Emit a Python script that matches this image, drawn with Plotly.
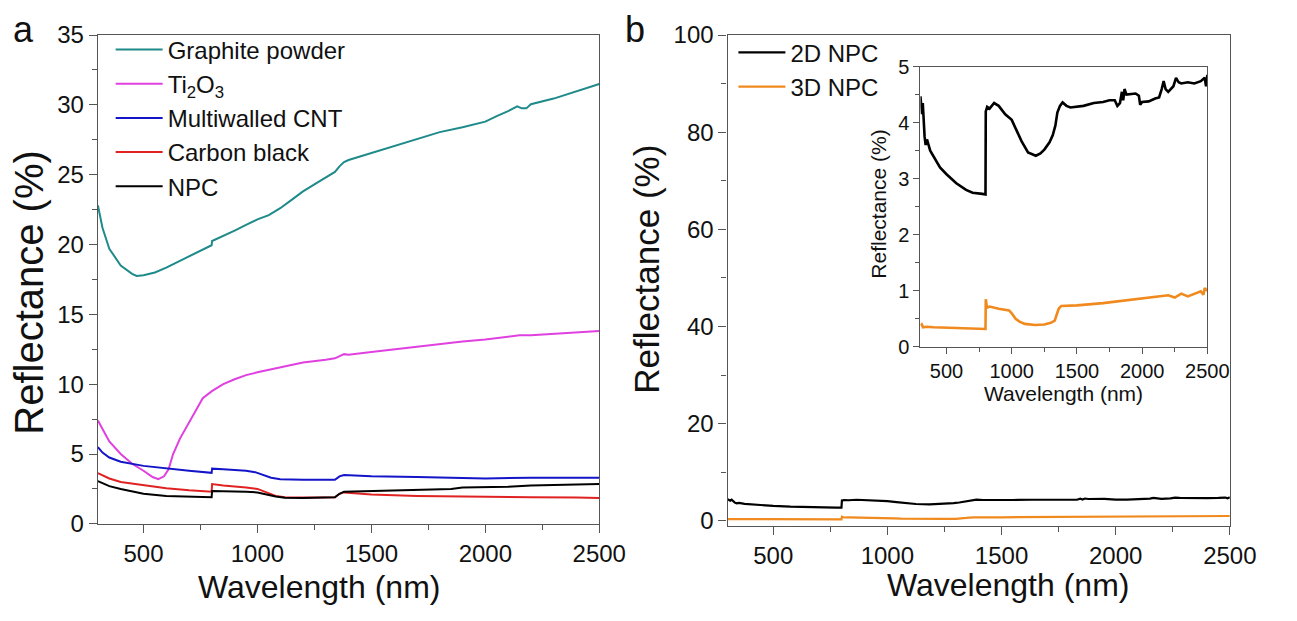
import plotly.graph_objects as go

W, H = 1297, 621

# ---------------- Panel a data ----------------
wl_graphite = [300, 320, 350, 400, 450, 470, 500, 550, 600, 650, 700, 750, 799, 801, 850, 900, 950, 1000, 1050, 1100,
               1150, 1200, 1250, 1300, 1340, 1360, 1380, 1400, 1450, 1500, 1600, 1700, 1800, 1900, 2000, 2050, 2100,
               2140, 2160, 2180, 2200, 2300, 2400, 2500]
r_graphite = [22.8, 21.2, 19.7, 18.5, 17.9, 17.75, 17.8, 18.0, 18.35, 18.75, 19.15, 19.55, 19.95, 20.25, 20.6, 21.0,
              21.4, 21.8, 22.1, 22.6, 23.2, 23.8, 24.3, 24.8, 25.2, 25.6, 25.9, 26.05, 26.3, 26.55, 27.1, 27.6, 28.05,
              28.4, 28.8, 29.2, 29.55, 29.9, 29.75, 29.75, 30.05, 30.45, 30.95, 31.5]

wl_ti2o3 = [300, 350, 400, 450, 500, 540, 565, 590, 610, 630, 660, 700, 730, 760, 800, 850, 900, 950, 1000, 1100,
            1200, 1300, 1340, 1380, 1400, 1500, 1600, 1700, 1800, 1900, 2000, 2100, 2150, 2200, 2300, 2400, 2500]
r_ti2o3 = [7.4, 5.9, 5.0, 4.3, 3.8, 3.35, 3.2, 3.4, 3.9, 5.0, 6.1, 7.3, 8.2, 9.0, 9.5, 10.0, 10.35, 10.65, 10.85, 11.2,
           11.55, 11.75, 11.85, 12.15, 12.1, 12.3, 12.5, 12.7, 12.9, 13.05, 13.2, 13.4, 13.5, 13.5, 13.6, 13.7, 13.8]

wl_cnt = [300, 320, 350, 400, 500, 600, 700, 799, 801, 850, 950, 990, 1030, 1060, 1100, 1200, 1340, 1360, 1380, 1450,
          1500, 1700, 1900, 2000, 2200, 2400, 2500]
r_cnt = [5.5, 5.1, 4.75, 4.45, 4.15, 3.95, 3.8, 3.65, 3.95, 3.9, 3.8, 3.7, 3.45, 3.3, 3.2, 3.15, 3.15, 3.4, 3.5, 3.45,
         3.4, 3.35, 3.3, 3.25, 3.3, 3.3, 3.3]

wl_cb = [300, 350, 400, 500, 600, 700, 799, 801, 850, 950, 1000, 1040, 1080, 1120, 1200, 1340, 1360, 1380, 1450, 1500,
         1700, 1900, 2000, 2200, 2400, 2500]
r_cb = [3.63, 3.25, 3.0, 2.75, 2.55, 2.4, 2.3, 2.85, 2.75, 2.6, 2.5, 2.25, 2.0, 1.9, 1.88, 1.9, 2.15, 2.25, 2.15, 2.1,
        2.0, 1.95, 1.9, 1.9, 1.88, 1.85]

wl_npc = [300, 350, 400, 500, 600, 700, 799, 801, 850, 950, 1000, 1040, 1080, 1120, 1200, 1340, 1360, 1380, 1500, 1700,
          1850, 1900, 2000, 2100, 2200, 2300, 2400, 2500]
r_npc = [3.06, 2.7, 2.5, 2.15, 2.0, 1.93, 1.9, 2.35, 2.35, 2.3, 2.25, 2.1, 1.95, 1.87, 1.85, 1.9, 2.15, 2.3, 2.35, 2.45,
         2.5, 2.6, 2.6, 2.65, 2.75, 2.8, 2.82, 2.85]

# ---------------- Panel b data ----------------
wl_2d = [300, 305, 312, 318, 325, 332, 340, 350, 375, 400, 450, 500, 575, 650, 700, 775, 799, 801, 812, 830,
         865, 900, 950, 1000, 1040, 1075, 1125, 1185, 1220, 1250, 1290, 1315, 1335, 1350, 1370, 1390, 1420, 1450,
         1550, 1630, 1700, 1750, 1790, 1810, 1830, 1845, 1855, 1865, 1880, 1950, 1975, 1985, 2000, 2050, 2100, 2130,
         2150, 2165, 2180, 2200, 2240, 2260, 2280, 2300, 2350, 2400, 2450, 2480, 2490, 2500]
r_2d = [4.47, 4.3, 4.15, 4.35, 4.0, 3.75, 3.6, 3.7, 3.5, 3.4, 3.2, 3.08, 2.92, 2.8, 2.75, 2.73, 2.72, 4.2, 4.28, 4.25,
        4.35, 4.3, 4.15, 4.05, 3.85, 3.67, 3.47, 3.41, 3.45, 3.52, 3.65, 3.78, 3.95, 4.18, 4.3, 4.36, 4.3, 4.27,
        4.3, 4.35, 4.37, 4.4, 4.4, 4.3, 4.35, 4.55, 4.4, 4.6, 4.5, 4.52, 4.48, 4.32, 4.37, 4.38, 4.43, 4.45,
        4.6, 4.74, 4.6, 4.55, 4.65, 4.8, 4.72, 4.7, 4.72, 4.7, 4.74, 4.8, 4.65, 4.85]

wl_3d = [300, 310, 320, 350, 400, 500, 600, 700, 799, 801, 810, 830, 900, 980, 1000, 1030, 1060, 1100, 1180, 1250,
         1300, 1330, 1345, 1360, 1380, 1500, 1700, 1850, 1950, 2100, 2200, 2250, 2300, 2350, 2400, 2450, 2470, 2480,
         2500]
r_3d = [0.38, 0.4, 0.35, 0.36, 0.35, 0.34, 0.33, 0.33, 0.32, 0.85, 0.7, 0.72, 0.68, 0.65, 0.6, 0.5, 0.45, 0.41, 0.39,
        0.4, 0.43, 0.47, 0.6, 0.68, 0.73, 0.74, 0.78, 0.82, 0.85, 0.88, 0.92, 0.88, 0.95, 0.9, 0.95, 0.99, 0.93, 1.05,
        1.0]

x_ticks = [500, 1000, 1500, 2000, 2500]

# ---------------- styles ----------------
FONT = "Liberation Sans, Arial, sans-serif"
AX = "#555555"
C_GRAPHITE = "#1F8A8A"
C_TI2O3 = "#E040E0"
C_CNT = "#1414C8"
C_CB = "#E02222"
C_NPC = "#000000"
C_3D = "#F08A1E"


def px_x(p):
    return p / W


def px_y(p):
    return 1 - p / H


def axis(domain, rng, dtick, minor_dtick, size, anchor, tickvals=None, tl=8, mtl=5):
    d = dict(domain=domain, range=rng, anchor=anchor, showline=True, linecolor=AX, linewidth=1.3, mirror=True,
             ticks="outside", ticklen=tl, tickwidth=1.3, tickcolor=AX, showgrid=False, zeroline=False,
             tickfont=dict(size=size, color="#111", family=FONT),
             minor=dict(ticks="outside", ticklen=mtl, tickwidth=1.2, tickcolor=AX, dtick=minor_dtick, showgrid=False))
    if tickvals is not None:
        d["tickmode"] = "array"
        d["tickvals"] = tickvals
    else:
        d["dtick"] = dtick
    return d


fig = go.Figure()

lw = 2.0
series_a = [
    ("Graphite powder", wl_graphite, r_graphite, C_GRAPHITE),
    ("Ti<sub>2</sub>O<sub>3</sub>", wl_ti2o3, r_ti2o3, C_TI2O3),
    ("Multiwalled CNT", wl_cnt, r_cnt, C_CNT),
    ("Carbon black", wl_cb, r_cb, C_CB),
    ("NPC", wl_npc, r_npc, C_NPC),
]
for name, xs, ys, c in series_a:
    fig.add_trace(go.Scatter(x=xs, y=ys, mode="lines", name=name, line=dict(color=c, width=lw),
                             xaxis="x", yaxis="y", legend="legend"))

fig.add_trace(go.Scatter(x=wl_2d, y=r_2d, mode="lines", name="2D NPC", line=dict(color=C_NPC, width=2.2),
                         xaxis="x2", yaxis="y2", legend="legend2"))
fig.add_trace(go.Scatter(x=wl_3d, y=r_3d, mode="lines", name="3D NPC", line=dict(color=C_3D, width=2.2),
                         xaxis="x2", yaxis="y2", legend="legend2"))

# inset
fig.add_trace(go.Scatter(x=wl_2d, y=r_2d, mode="lines", showlegend=False, line=dict(color=C_NPC, width=2.6),
                         xaxis="x3", yaxis="y3"))
fig.add_trace(go.Scatter(x=wl_3d, y=r_3d, mode="lines", showlegend=False, line=dict(color=C_3D, width=2.6),
                         xaxis="x3", yaxis="y3"))

# panel geometry (pixels)
a_l, a_r, a_t, a_b = 100, 612, 22, 533
b_l, b_r, b_t, b_b = 743, 1256, 22, 535
i_l, i_r, i_t, i_b = 940, 1233, 55, 348

fig.update_layout(
    width=W, height=H, autosize=False,
    margin=dict(l=0, r=0, t=0, b=0, pad=0),
    paper_bgcolor="white", plot_bgcolor="white",
    font=dict(family=FONT, color="#111"),
    xaxis=axis([px_x(a_l), px_x(a_r)], [300, 2500], None, 250, 24, "y", x_ticks),
    yaxis=axis([px_y(a_b), px_y(a_t)], [0, 35], 5, 2.5, 24, "x"),
    xaxis2=axis([px_x(b_l), px_x(b_r)], [300, 2500], None, 250, 24, "y2", x_ticks),
    yaxis2=axis([px_y(b_b), px_y(b_t)], [-1, 100], 20, 10, 24, "x2"),
    xaxis3=axis([px_x(i_l), px_x(i_r)], [300, 2500], None, 250, 20, "y3", x_ticks, 6, 4),
    yaxis3=axis([px_y(i_b), px_y(i_t)], [0, 5], 1, 0.5, 20, "x3", None, 6, 4),
    legend=dict(x=px_x(113), y=px_y(14), xanchor="left", yanchor="top", bgcolor="rgba(0,0,0,0)",
                font=dict(size=24, family=FONT, color="#111"), itemwidth=47, tracegroupgap=0),
    legend2=dict(x=px_x(749), y=px_y(17), xanchor="left", yanchor="top", bgcolor="rgba(0,0,0,0)",
                 font=dict(size=24, family=FONT, color="#111"), itemwidth=47, tracegroupgap=0),
    showlegend=True,
    hovermode=False,
)

ann = []


def text(x, y, s, size, angle=0):
    ann.append(dict(x=px_x(x), y=px_y(y), xref="paper", yref="paper", text=s, showarrow=False,
                    font=dict(size=size, family=FONT, color="#111"), textangle=angle,
                    xanchor="center", yanchor="middle"))


text(24, 16, "a", 36)
text(649, 16, "b", 36)
text(30, 291, "Reflectance (%)", 40, -90)
text(326, 599, "Wavelength (nm)", 32)
text(660, 267, "Reflectance (%)", 35, -90)
text(1029, 597, "Wavelength (nm)", 32)
text(897, 199, "Reflectance (%)", 21, -90)
text(1086, 397, "Wavelength (nm)", 21)
fig.update_layout(annotations=ann)

fig.write_html("out.html", config={"displayModeBar": False},
               post_script="document.body.style.margin='0px';")
